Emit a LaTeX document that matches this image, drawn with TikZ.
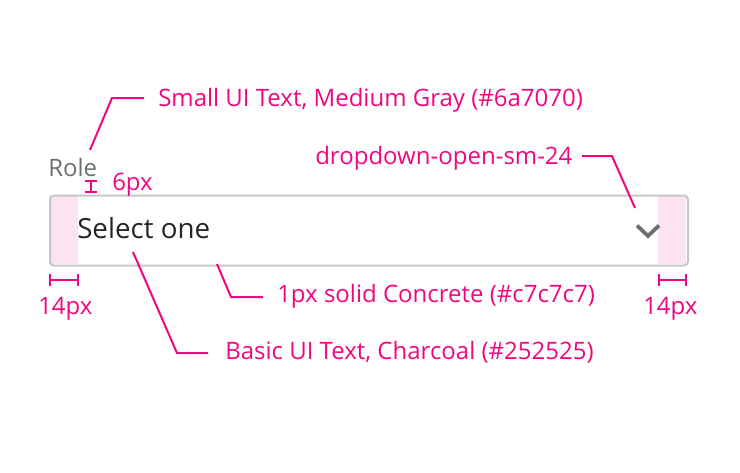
\documentclass[tikz,border=0pt]{standalone}
\usepackage{fontspec}
\usetikzlibrary{calc}
\setmainfont{Open Sans}
\definecolor{anno}{HTML}{F0077F}
\definecolor{medgray}{HTML}{6A7070}
\definecolor{charcoal}{HTML}{252525}
\definecolor{concrete}{HTML}{C7C7C7}
\definecolor{padpink}{HTML}{FBE4EF}
\tikzset{
  leader/.style={draw=anno,line width=1.5pt},
  annotext/.style={text=anno,font=\fontsize{18pt}{21pt}\selectfont,inner sep=0pt,anchor=base west},
  marker/.style={draw=anno,line width=1.5pt},
}
\begin{document}
\begin{tikzpicture}[x=0.75pt,y=-0.75pt]
\useasboundingbox (0,0) rectangle (740,472);
% padding areas
\fill[padpink] (49,195) rectangle (78,264);
\fill[padpink] (658,195) rectangle (686,264);
% box
\node[draw=concrete,line width=1.5pt,rounded corners=3pt,minimum width=638*0.75pt,minimum height=70*0.75pt,inner sep=0pt,anchor=north west] (box) at (49,194.5) {};
% texts
\node[text=medgray,font=\fontsize{18pt}{21pt}\selectfont,inner sep=0pt,anchor=base west] (role) at (48,176) {Role};
\node[text=charcoal,font=\fontsize{20.8pt}{24pt}\selectfont,inner sep=0pt,anchor=base west] (sel) at (77,238) {Select one};
% chevron
\coordinate (chevl) at (637,225.5);
\coordinate (chevb) at (648,236);
\coordinate (chevr) at (659,225.5);
\draw[medgray,line width=2.8pt] (chevl) -- (chevb) -- (chevr);
% 6px marker
\coordinate (m6t) at (91,181);
\coordinate (m6b) at (91,192);
\draw[marker] (m6t) -- (m6b);
\draw[marker] ($(m6t)+(-6,0)$) -- ($(m6t)+(6,0)$);
\draw[marker] ($(m6b)+(-6,0)$) -- ($(m6b)+(6,0)$);
\node[annotext] (t6) at (112,190) {6px};
% 14px markers
\coordinate (m14la) at (50,280);
\coordinate (m14lb) at (78,280);
\draw[marker] (m14la) -- (m14lb);
\draw[marker] ($(m14la)+(0,-6)$) -- ($(m14la)+(0,6)$);
\draw[marker] ($(m14lb)+(0,-6)$) -- ($(m14lb)+(0,6)$);
\node[annotext] (t14l) at (38,314) {14px};
\coordinate (m14ra) at (659,280);
\coordinate (m14rb) at (686,280);
\draw[marker] (m14ra) -- (m14rb);
\draw[marker] ($(m14ra)+(0,-6)$) -- ($(m14ra)+(0,6)$);
\draw[marker] ($(m14rb)+(0,-6)$) -- ($(m14rb)+(0,6)$);
\node[annotext] (t14r) at (643,314) {14px};
% callouts
\node[annotext] (c1) at (158,106) {Small UI Text, Medium Gray (\#6a7070)};
\coordinate (c1s) at (90,150);
\coordinate (c1k) at (112,98);
\coordinate (c1e) at (144,98);
\draw[leader] (c1s) -- (c1k) -- (c1e);

\node[annotext] (c2) at (315,164) {dropdown-open-sm-24};
\coordinate (c2s) at (582,156);
\coordinate (c2k) at (612,156);
\coordinate (c2e) at (635,208);
\draw[leader] (c2s) -- (c2k) -- (c2e);

\node[annotext] (c3) at (277,302) {1px solid Concrete (\#c7c7c7)};
\coordinate (c3s) at (217,264);
\coordinate (c3k) at (231,297);
\coordinate (c3e) at (263,297);
\draw[leader] (c3s) -- (c3k) -- (c3e);

\node[annotext] (c4) at (225,359) {Basic UI Text, Charcoal (\#252525)};
\coordinate (c4s) at (133,252);
\coordinate (c4k) at (177,353);
\coordinate (c4e) at (208,353);
\draw[leader] (c4s) -- (c4k) -- (c4e);
\end{tikzpicture}
\end{document}
